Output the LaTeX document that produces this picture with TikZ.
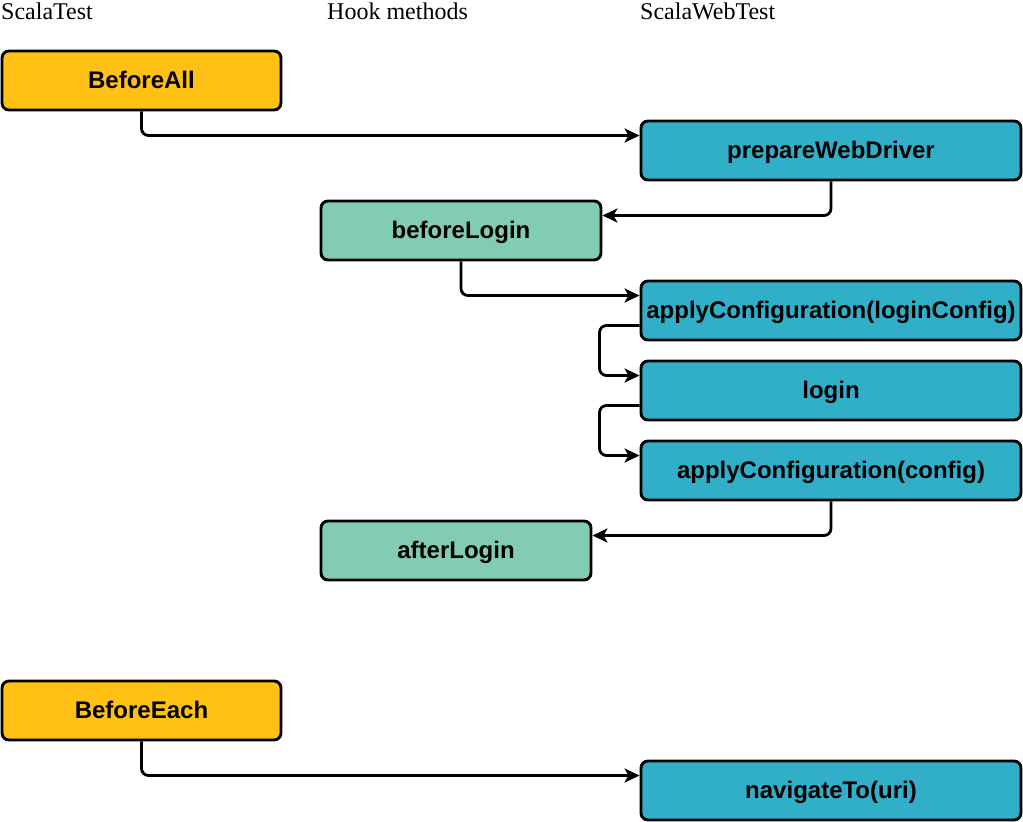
\documentclass[tikz,border=0pt]{standalone}
\usepackage{fontspec}
\setmainfont{Liberation Serif}
\newfontfamily\boxfont{Liberation Sans}
\usetikzlibrary{arrows.meta}

\definecolor{suitecol}{HTML}{FFC113}
\definecolor{webcol}{HTML}{32AFC8}
\definecolor{hookcol}{HTML}{82CDB2}

\begin{document}
\begin{tikzpicture}[x=1pt,y=-1pt,
  box/.style={draw=black,line width=2.9pt,rounded corners=7pt,inner sep=0pt,
    text height=18pt,text depth=2pt,
    font=\boxfont\bfseries\fontsize{24}{28}\selectfont},
  suite/.style={box,fill=suitecol,minimum width=279pt,minimum height=59pt},
  web/.style={box,fill=webcol,minimum width=380pt,minimum height=59pt},
  hook/.style={box,fill=hookcol,minimum width=280pt,minimum height=59pt},
  head/.style={anchor=north west,inner sep=0pt,font=\fontsize{24}{28}\selectfont},
  conn/.style={line width=2.8pt,rounded corners=7pt,-{Stealth[length=15pt,width=14pt,inset=4pt]}}]
\useasboundingbox (0,0) rectangle (1023,822);
\node[head] (hsuite) at (1,3)   {ScalaTest};
\node[head] (hhook)  at (327,3) {Hook methods};
\node[head] (hweb)   at (640,3) {ScalaWebTest};

\node[suite] (beforeall)  at (141.5,80.5)  {BeforeAll};
\node[web]   (prepare)    at (831,150.5)   {prepareWebDriver};
\node[hook]  (beforelogin) at (461,230.5)  {beforeLogin};
\node[web]   (cfglogin)   at (831,310.5)   {applyConfiguration(loginConfig)};
\node[web]   (login)      at (831,390.5)   {login};
\node[web]   (cfg)        at (831,470.5)   {applyConfiguration(config)};
\node[hook,minimum width=270pt] (afterlogin) at (456,550.5) {afterLogin};
\node[suite] (beforeeach) at (141.5,710.5) {BeforeEach};
\node[web]   (navigate)   at (831,790.5)   {navigateTo(uri)};

\draw[conn] (beforeall.south) |- ([yshift=15pt]prepare.west);
\draw[conn] (prepare.south) |- ([yshift=15pt]beforelogin.east);
\draw[conn] (beforelogin.south) |- ([yshift=15pt]cfglogin.west);
\draw[conn] ([yshift=-15pt]cfglogin.west) -- ++(-40,0) |- ([yshift=15pt]login.west);
\draw[conn] ([yshift=-15pt]login.west) -- ++(-40,0) |- ([yshift=15pt]cfg.west);
\draw[conn] (cfg.south) |- ([yshift=15pt]afterlogin.east);
\draw[conn] (beforeeach.south) |- ([yshift=15pt]navigate.west);
\end{tikzpicture}
\end{document}
